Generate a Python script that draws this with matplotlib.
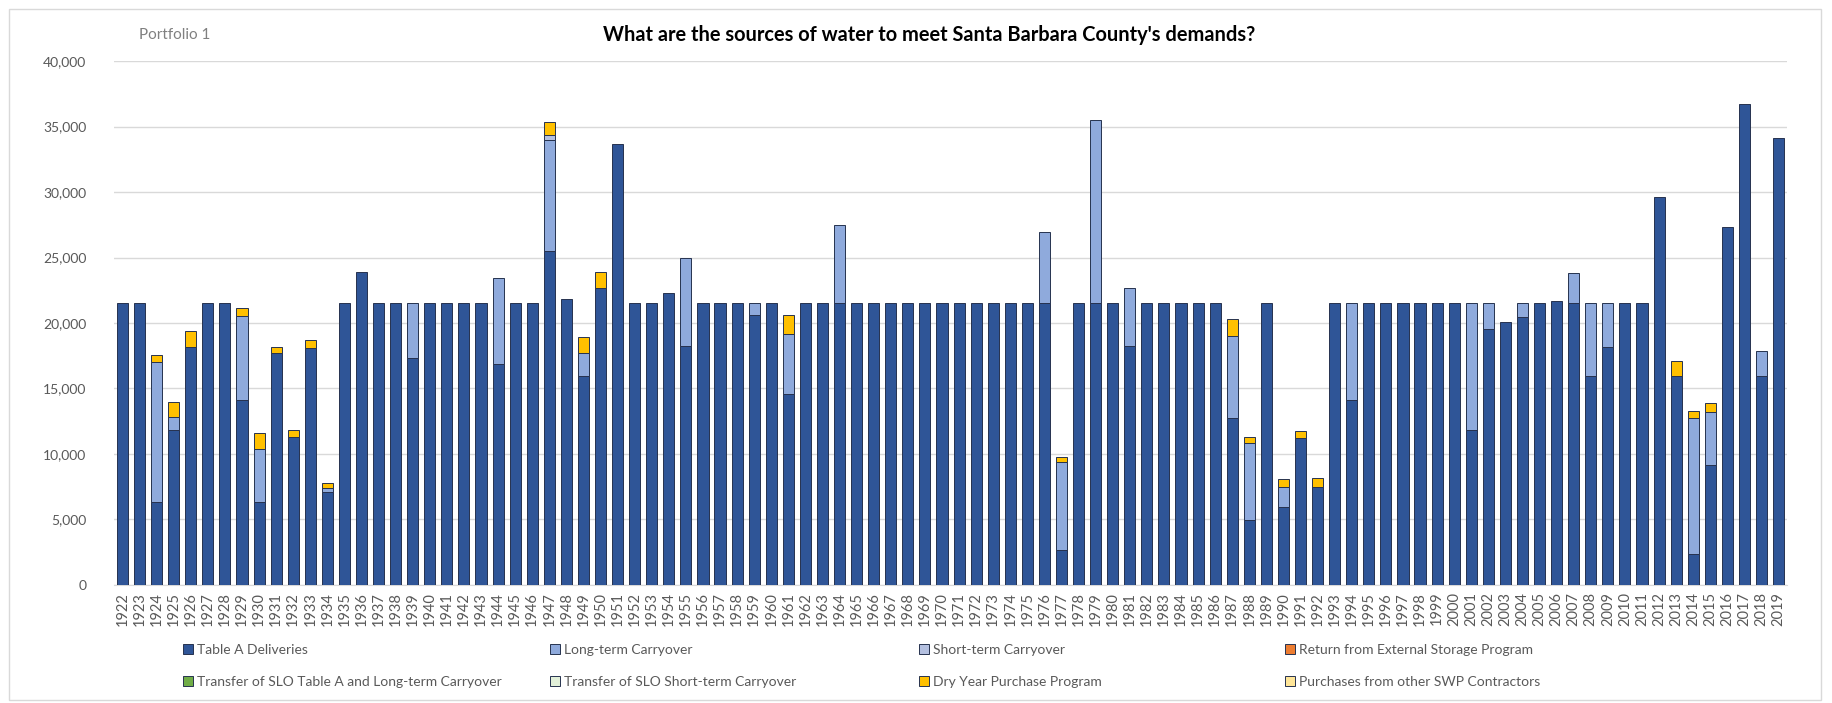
import numpy as np
import matplotlib.pyplot as plt
from matplotlib.patches import Patch, Rectangle
from matplotlib.ticker import FuncFormatter

plt.rcParams['font.family'] = ['Lato', 'DejaVu Sans']

years = list(range(1922, 2020))

# acre-feet per year
table_a = [21500, 21500, 6360, 11830, 18190, 21500, 21500, 14120, 6360, 17730,
           11320, 18130, 7120, 21500, 23900, 21500, 21500, 17300, 21500, 21500,
           21500, 21500, 16840, 21500, 21500, 25510, 21870, 15950, 22710, 33700,
           21500, 21500, 22300, 18240, 21500, 21500, 21500, 20600, 21500, 14570,
           21500, 21500, 21500, 21500, 21500, 21500, 21500, 21500, 21500, 21500,
           21500, 21500, 21500, 21500, 21500, 2670, 21500, 21500, 21500, 18240,
           21500, 21500, 21500, 21500, 21500, 12720, 4960, 21500, 5980, 11190,
           7500, 21500, 14120, 21500, 21500, 21500, 21500, 21500, 21500, 11830,
           19580, 20090, 20470, 21500, 21670, 21500, 15950, 18190, 21500, 21500,
           29630, 15950, 2370, 9160, 27340, 36700, 15950, 34160]

long_term = {1924: 10680, 1925: 1010, 1929: 6400, 1930: 3990, 1934: 260,
             1939: 4200, 1944: 6630, 1947: 8440, 1949: 1730, 1955: 6760,
             1959: 900, 1961: 4630, 1964: 5970, 1976: 5460, 1977: 6740,
             1979: 13980, 1981: 4450, 1987: 6280, 1988: 5850, 1990: 1520,
             1994: 7380, 2001: 9670, 2002: 1920, 2004: 1070, 2007: 2330,
             2008: 5550, 2009: 3310, 2014: 10350, 2015: 4070, 2018: 1930}

short_term = {1947: 390}

dry_year = {1924: 510, 1925: 1150, 1926: 1210, 1929: 590, 1930: 1270,
            1931: 460, 1932: 510, 1933: 560, 1934: 380, 1947: 1010,
            1949: 1270, 1950: 1190, 1961: 1400, 1977: 380, 1987: 1270,
            1988: 460, 1990: 590, 1991: 580, 1992: 640, 2013: 1140,
            2014: 560, 2015: 680}

series = [
    ('Table A Deliveries', table_a, '#2F5597'),
    ('Long-term Carryover', [long_term.get(y, 0) for y in years], '#8FAADC'),
    ('Short-term Carryover', [short_term.get(y, 0) for y in years], '#B4C0E0'),
    ('Return from External Storage Program', [0] * len(years), '#ED7D31'),
    ('Transfer of SLO Table A and Long-term Carryover', [0] * len(years), '#70AD47'),
    ('Transfer of SLO Short-term Carryover', [0] * len(years), '#E2F0D9'),
    ('Dry Year Purchase Program', [dry_year.get(y, 0) for y in years], '#FFC000'),
    ('Purchases from other SWP Contractors', [0] * len(years), '#FFE699'),
]

fig = plt.figure(figsize=(18.32, 7.03), dpi=100)
ax = fig.add_axes([0.0622, 0.168, 0.9133, 0.745])

x = np.arange(len(years))
bottom = np.zeros(len(years))
handles = []
for name, vals, color in series:
    vals = np.array(vals, dtype=float)
    ax.bar(x, vals, width=0.65, bottom=bottom, color=color,
           edgecolor='#26324F', linewidth=np.where(vals > 0, 0.7, 0), zorder=3)
    bottom += vals
    handles.append(Patch(facecolor=color, edgecolor='#26324F', linewidth=0.7, label=name))

ax.set_xlim(-0.5, len(years) - 0.5)
ax.set_ylim(0, 40000)
ax.set_yticks(range(0, 40001, 5000))
ax.yaxis.set_major_formatter(FuncFormatter(lambda v, p: f'{int(v):,}'))
ax.set_xticks(x)
ax.set_xticklabels(years, rotation=90)
ax.tick_params(axis='x', length=0, labelsize=10.5, colors='#595959', pad=5)
ax.tick_params(axis='y', length=0, labelsize=10, colors='#595959', pad=20)
ax.grid(axis='y', color='#D9D9D9', linewidth=1, zorder=0)
for s in ['top', 'right', 'left']:
    ax.spines[s].set_visible(False)
ax.spines['bottom'].set_color('#D9D9D9')

fig.text(0.507, 0.950, "What are the sources of water to meet Santa Barbara County's demands?",
         ha='center', va='center', fontsize=14.4, fontweight='bold', color='black')
fig.text(0.076, 0.950, 'Portfolio 1', ha='left', va='center', fontsize=11, color='#808080')

# legend laid out in 4 equal columns, two rows
col_x = [183, 550, 919, 1285]
for i, cx in enumerate(col_x):
    fig.legend(handles=[handles[i], handles[i + 4]], loc='upper left',
               bbox_to_anchor=(cx / 1832, 0.084), frameon=False, borderpad=0,
               borderaxespad=0, fontsize=10, labelcolor='#595959',
               handlelength=0.7, handleheight=0.7, handletextpad=0.3,
               labelspacing=1.45)

fig.add_artist(Rectangle((0.005, 0.004), 0.989, 0.983, transform=fig.transFigure,
                         fill=False, edgecolor='#D9D9D9', linewidth=1))

fig.savefig('out.png', dpi=100, facecolor='white')
